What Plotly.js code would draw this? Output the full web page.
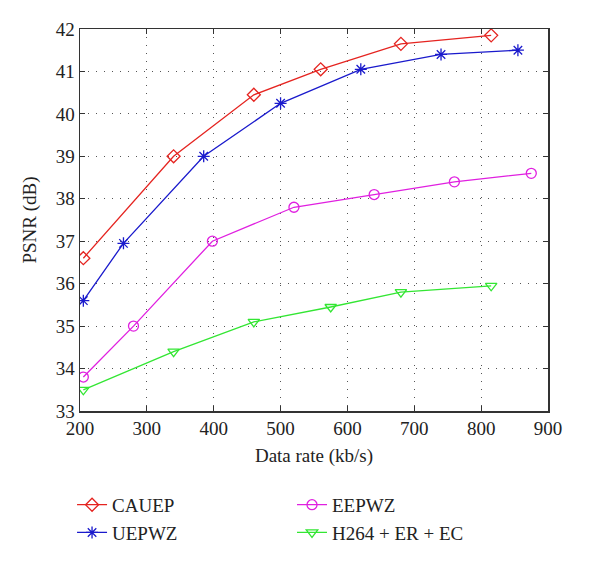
<!DOCTYPE html>
<html><head><meta charset="utf-8">
<script src="https://cdn.plot.ly/plotly-3.0.1.min.js"></script>
<style>body{margin:0;background:#fff}#c{width:600px;height:561px}</style>
</head><body><div id="c"></div>
<script>
const seriesNames = ["CAUEP", "UEPWZ", "EEPWZ", "H264 + ER + EC"];
const cauepX = [205, 340, 460, 560, 680, 815];
const cauepY = [36.6, 39.0, 40.45, 41.05, 41.65, 41.85];
const uepwzX = [205, 265, 385, 500, 620, 740, 855];
const uepwzY = [35.6, 36.95, 39.0, 40.25, 41.05, 41.4, 41.5];
const eepwzX = [205, 280, 398, 520, 640, 760, 875];
const eepwzY = [33.8, 35.0, 37.0, 37.8, 38.1, 38.4, 38.6];
const h264X = [205, 340, 460, 575, 680, 815];
const h264Y = [33.5, 34.4, 35.1, 35.45, 35.8, 35.95];
const xTicks = [200, 300, 400, 500, 600, 700, 800, 900];
const yTicks = [33, 34, 35, 36, 37, 38, 39, 40, 41, 42];

const colors = ["#e52420", "#1a1acc", "#e020e0", "#33e633"];
const symbols = ["diamond-open", "asterisk-open", "circle-open", "triangle-down-open"];
const xs = [cauepX, uepwzX, eepwzX, h264X];
const ys = [cauepY, uepwzY, eepwzY, h264Y];
const legends = ["legend", "legend", "legend2", "legend2"];

const data = seriesNames.map((n, i) => ({
  x: xs[i], y: ys[i], name: n, type: "scatter", mode: "lines+markers",
  legend: legends[i],
  line: {color: colors[i], width: 1.3},
  marker: {symbol: symbols[i], size: 10, color: colors[i], line: {color: colors[i], width: 1.3}}
}));

const font = {family: "Liberation Serif, Times New Roman, serif", size: 19, color: "#222"};
const axisCommon = {
  showline: true, linecolor: "#333", linewidth: 1.5, mirror: "ticks",
  ticks: "inside", ticklen: 5, tickcolor: "#333",
  showgrid: true, gridcolor: "#555", griddash: "1px,7px", gridwidth: 1.2,
  zeroline: false, tickfont: font, automargin: false
};
const layout = {
  width: 600, height: 561,
  margin: {l: 80, r: 52, t: 29, b: 150, autoexpand: false},
  paper_bgcolor: "#fff", plot_bgcolor: "#fff",
  font: font,
  showlegend: true,
  xaxis: Object.assign({}, axisCommon, {range: [200, 900], tickvals: xTicks,
    title: {text: "Data rate (kb/s)", font: font, standoff: 10}}),
  yaxis: Object.assign({}, axisCommon, {range: [33, 42], tickvals: yTicks,
    title: {text: "PSNR (dB)", font: font, standoff: 14}}),
  legend: {x: -0.017, y: -0.196, xanchor: "left", yanchor: "top",
    orientation: "v", font: font, bgcolor: "rgba(0,0,0,0)", tracegroupgap: 0, itemwidth: 30},
  legend2: {x: 0.453, y: -0.196, xanchor: "left", yanchor: "top",
    orientation: "v", font: font, bgcolor: "rgba(0,0,0,0)", tracegroupgap: 0, itemwidth: 30}
};
Plotly.newPlot("c", data, layout, {displayModeBar: false, staticPlot: true});
</script></body></html>
